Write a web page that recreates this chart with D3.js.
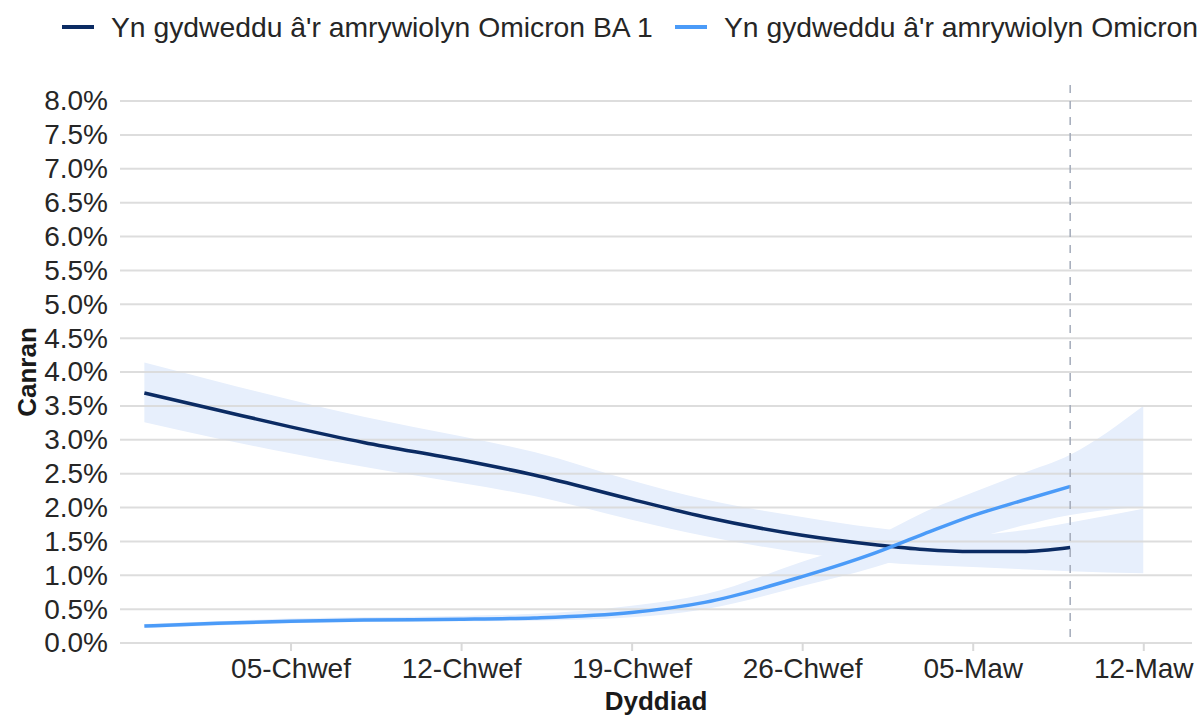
<!DOCTYPE html>
<html>
<head>
<meta charset="utf-8">
<script src="https://cdn.jsdelivr.net/npm/d3@7"></script>
<style>
  body { margin: 0; background: #fff; }
  svg { display: block; font-family: "Liberation Sans", Arial, sans-serif; }
</style>
</head>
<body>
<div id="chart"></div>
<script>
// Dates of the smoothed estimates (2022)
const dates = ["2022-01-30", "2022-02-02", "2022-02-05", "2022-02-08", "2022-02-12", "2022-02-15",
  "2022-02-19", "2022-02-22", "2022-02-26", "2022-03-01", "2022-03-03", "2022-03-05",
  "2022-03-07", "2022-03-09", "2022-03-12"];

// Omicron BA 1 (percent); line stops at 09-Maw, band runs to 12-Maw
const ba1 = [3.69, 3.44, 3.19, 2.96, 2.70, 2.48, 2.12, 1.86, 1.59, 1.45, 1.38, 1.35, 1.35, 1.41, null];
const ba1Lower = [3.26, 3.02, 2.80, 2.60, 2.36, 2.17, 1.82, 1.58, 1.33, 1.20, 1.15, 1.12, 1.09, 1.06, 1.03];
const ba1Upper = [4.14, 3.86, 3.59, 3.34, 3.05, 2.82, 2.40, 2.12, 1.86, 1.70, 1.62, 1.60, 1.66, 1.78, 1.98];

// Omicron BA 2 (percent)
const ba2 = [0.25, 0.29, 0.32, 0.34, 0.35, 0.37, 0.45, 0.60, 0.98, 1.33, 1.61, 1.88, 2.10, 2.31, null];
const ba2Lower = [0.22, 0.26, 0.29, 0.31, 0.32, 0.33, 0.38, 0.50, 0.84, 1.12, 1.35, 1.54, 1.73, 1.89, 2.01];
const ba2Upper = [0.28, 0.32, 0.36, 0.38, 0.40, 0.43, 0.55, 0.72, 1.20, 1.57, 1.93, 2.22, 2.50, 2.78, 3.50];

// legend as shown (the second entry is cut off at the right edge)
const seriesNames = ["Yn gydweddu â'r amrywiolyn Omicron BA 1", "Yn gydweddu â'r amrywiolyn Omicron"];
const seriesColors = ["#0b2b63", "#4b9bf8"];

const xTicks = ["2022-02-05", "2022-02-12", "2022-02-19", "2022-02-26", "2022-03-05", "2022-03-12"];
const monthNames = { 1: "Ion", 2: "Chwef", 3: "Maw" };
const lastDataDate = "2022-03-09";

const width = 1201, height = 717;
const margin = { top: 101, right: 9, bottom: 74, left: 120 };

const parse = d3.timeParse("%Y-%m-%d");

const svg = d3.select("#chart").append("svg")
  .attr("width", width)
  .attr("height", height);

const x = d3.scaleTime()
  .domain([parse("2022-01-29"), parse("2022-03-14")])
  .range([margin.left, width - margin.right]);

const y = d3.scaleLinear()
  .domain([0, 8])
  .range([height - margin.bottom, margin.top]);

function makeRows(vals, lo, hi) {
  return dates.map((d, i) => ({ date: parse(d), v: vals[i], lo: lo[i], hi: hi[i] }));
}
const rows1 = makeRows(ba1, ba1Lower, ba1Upper);
const rows2 = makeRows(ba2, ba2Lower, ba2Upper);

// Confidence bands
const area = d3.area()
  .x(d => x(d.date))
  .y0(d => y(d.lo))
  .y1(d => y(d.hi))
  .curve(d3.curveMonotoneX);

svg.append("g").attr("class", "bands")
  .selectAll("path")
  .data([rows1, rows2])
  .enter().append("path")
  .attr("d", area)
  .attr("fill", "#e7effc");

// Grid lines
const yTicks = d3.range(0, 8.01, 0.5);
svg.append("g").attr("class", "grid")
  .selectAll("line")
  .data(yTicks)
  .enter().append("line")
  .attr("x1", margin.left)
  .attr("x2", width - margin.right)
  .attr("y1", d => y(d))
  .attr("y2", d => y(d))
  .attr("stroke", "#d9d9d9")
  .attr("stroke-opacity", 0.9)
  .attr("stroke-width", 2);

// y axis labels
const yAxis = d3.axisLeft(y)
  .tickValues(yTicks)
  .tickSize(0)
  .tickPadding(12)
  .tickFormat(d => d.toFixed(1) + "%");

svg.append("g")
  .attr("transform", `translate(${margin.left},0)`)
  .call(yAxis)
  .call(g => g.select(".domain").remove())
  .call(g => g.selectAll("text")
    .attr("font-size", 28)
    .attr("fill", "#262626")
    .attr("font-family", "Liberation Sans, Arial, sans-serif"));

// x axis
const xAxis = d3.axisBottom(x)
  .tickValues(xTicks.map(parse))
  .tickSize(8)
  .tickPadding(7)
  .tickFormat(d => d3.timeFormat("%d")(d) + "-" + monthNames[d.getMonth() + 1]);

svg.append("g")
  .attr("transform", `translate(0,${height - margin.bottom})`)
  .call(xAxis)
  .call(g => g.select(".domain").remove())
  .call(g => g.selectAll(".tick line").attr("stroke", "#d9d9d9").attr("stroke-width", 2))
  .call(g => g.selectAll("text")
    .attr("font-size", 28)
    .attr("fill", "#262626")
    .attr("font-family", "Liberation Sans, Arial, sans-serif"));

// Lines
const line = d3.line()
  .x(d => x(d.date))
  .y(d => y(d.v))
  .curve(d3.curveMonotoneX);

svg.append("g").attr("class", "lines")
  .selectAll("path")
  .data([rows1, rows2])
  .enter().append("path")
  .attr("d", d => line(d.filter(r => r.v != null)))
  .attr("fill", "none")
  .attr("stroke", (d, i) => seriesColors[i])
  .attr("stroke-width", 3.5);

// Last data date marker
svg.append("line")
  .attr("x1", x(parse(lastDataDate)))
  .attr("x2", x(parse(lastDataDate)))
  .attr("y1", 85)
  .attr("y2", height - margin.bottom)
  .attr("stroke", "#a3abba")
  .attr("stroke-width", 1.5)
  .attr("stroke-dasharray", "8,8");

// Axis titles
svg.append("text")
  .attr("x", (margin.left + width - margin.right) / 2)
  .attr("y", 710)
  .attr("text-anchor", "middle")
  .attr("font-size", 26)
  .attr("font-weight", "bold")
  .attr("fill", "#1a1a1a")
  .text("Dyddiad");

svg.append("text")
  .attr("transform", `translate(36,${(margin.top + height - margin.bottom) / 2}) rotate(-90)`)
  .attr("text-anchor", "middle")
  .attr("font-size", 26)
  .attr("font-weight", "bold")
  .attr("fill", "#1a1a1a")
  .text("Canran");

// Legend
const legendX = [62, 675];
const legend = svg.append("g").attr("class", "legend")
  .selectAll("g")
  .data(seriesNames)
  .enter().append("g")
  .attr("transform", (d, i) => `translate(${legendX[i]},27)`);

legend.append("line")
  .attr("x1", 0).attr("x2", 32)
  .attr("y1", 0).attr("y2", 0)
  .attr("stroke", (d, i) => seriesColors[i])
  .attr("stroke-width", 4);

legend.append("text")
  .attr("x", 49)
  .attr("y", 10)
  .attr("font-size", 28.3)
  .attr("fill", "#262626")
  .text(d => d);
</script>
</body>
</html>
